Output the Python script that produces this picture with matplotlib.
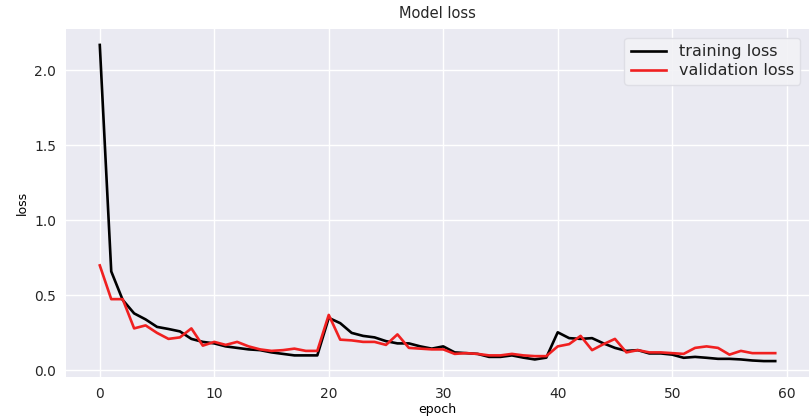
import matplotlib
matplotlib.use("Agg")
import matplotlib.pyplot as plt

epochs = list(range(60))
training_loss = [
    2.17, 0.66, 0.47, 0.38, 0.34, 0.29, 0.276, 0.26, 0.21, 0.19,
    0.18, 0.16, 0.15, 0.14, 0.135, 0.12, 0.11, 0.10, 0.10, 0.10,
    0.35, 0.315, 0.25, 0.23, 0.22, 0.195, 0.18, 0.18, 0.16, 0.145,
    0.16, 0.12, 0.115, 0.11, 0.09, 0.09, 0.10, 0.085, 0.073, 0.085,
    0.254, 0.215, 0.21, 0.215, 0.18, 0.15, 0.13, 0.135, 0.113, 0.113,
    0.105, 0.084, 0.09, 0.084, 0.077, 0.077, 0.073, 0.066, 0.062, 0.062,
]
validation_loss = [
    0.70, 0.475, 0.475, 0.28, 0.30, 0.25, 0.21, 0.22, 0.28, 0.165,
    0.19, 0.17, 0.19, 0.16, 0.14, 0.13, 0.135, 0.145, 0.13, 0.13,
    0.37, 0.205, 0.20, 0.19, 0.19, 0.17, 0.24, 0.15, 0.145, 0.14,
    0.14, 0.11, 0.115, 0.11, 0.10, 0.10, 0.11, 0.10, 0.095, 0.095,
    0.16, 0.175, 0.23, 0.135, 0.175, 0.21, 0.12, 0.135, 0.12, 0.12,
    0.115, 0.11, 0.15, 0.16, 0.15, 0.105, 0.13, 0.115, 0.115, 0.115,
]

plt.rcParams.update({
    "font.family": ["DejaVu Sans"],
    "axes.facecolor": "#EAEAF2",
    "axes.edgecolor": "white",
    "grid.color": "white",
    "text.color": "#262626",
    "xtick.color": "#262626",
    "ytick.color": "#262626",
})

fig = plt.figure(figsize=(8.09, 4.16), dpi=100)
ax = fig.add_axes([0.0816, 0.094, 0.9184, 0.836])
ax.set_axisbelow(True)
ax.grid(True, color="white", linewidth=1.0)
for s in ax.spines.values():
    s.set_visible(False)

ax.plot(epochs, training_loss, color="black", linewidth=1.9, label="training loss")
ax.plot(epochs, validation_loss, color="#F02020", linewidth=1.9, label="validation loss")

ax.set_xticks([0, 10, 20, 30, 40, 50, 60])
ax.set_yticks([0.0, 0.5, 1.0, 1.5, 2.0])
ax.set_yticklabels(["0.0", "0.5", "1.0", "1.5", "2.0"])
ax.tick_params(axis="both", length=0, labelsize=10, pad=7)

ax.set_title("Model loss", fontsize=10.5, pad=8)
ax.set_xlabel("epoch", fontsize=9, labelpad=2)
ax.set_ylabel("loss", fontsize=9, labelpad=4)

leg = ax.legend(loc="upper right", fontsize=11.5, frameon=True, borderaxespad=0.55,
                handlelength=2.2, labelspacing=0.25)
leg.get_frame().set_facecolor("#F2F2F6")
leg.get_frame().set_edgecolor("#DDDDE4")
leg.get_frame().set_alpha(0.9)

fig.savefig("out.png", dpi=100)
